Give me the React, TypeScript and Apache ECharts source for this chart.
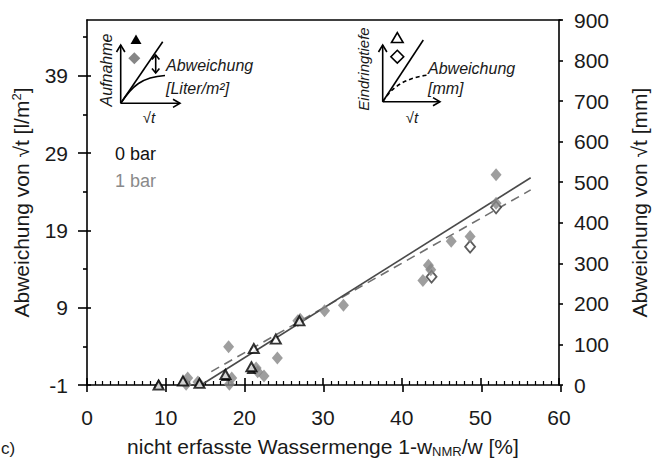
import React, { useEffect, useRef } from "react";
import * as echarts from "echarts";

// Axis tick values
const xTickValues = [0, 10, 20, 30, 40, 50, 60];
const leftTickValues = [-1, 9, 19, 29, 39];
const leftMinorTickValues = [4, 14, 24, 34, 44];
const rightTickValues = [0, 100, 200, 300, 400, 500, 600, 700, 800, 900];

// Aufnahme deviation [l/m²], 0 bar (filled triangles)
const uptake0bar: [number, number][] = [
  [9.1, -0.8], [12.2, -0.4], [14.3, -0.7], [17.6, 0.1], [20.9, 1.0],
];

// Aufnahme deviation [l/m²], 1 bar (grey diamonds)
const uptake1bar: [number, number][] = [
  [12.6, -0.9], [12.8, -0.1], [14.1, -0.6], [18.0, 3.95], [18.1, -0.9],
  [18.4, -0.1], [21.5, 1.2], [21.7, 0.7], [22.5, 0.15], [24.2, 2.5],
  [26.8, 7.3], [27.1, 7.5], [30.2, 8.6], [32.6, 9.3], [42.7, 12.5],
  [43.4, 14.5], [43.7, 13.9], [46.3, 17.6], [48.7, 18.2], [52.0, 26.2],
  [52.0, 22.5],
];

// Eindringtiefe deviation [mm], 0 bar (open triangles)
const depth0bar: [number, number][] = [
  [9.1, 0], [12.2, 10], [14.3, 4], [17.6, 26], [20.9, 45],
  [21.2, 90], [24.0, 113], [27.0, 158],
];

// Eindringtiefe deviation [mm], 1 bar (open diamonds)
const depth1bar: [number, number][] = [
  [43.8, 267], [48.7, 341], [52.0, 438],
];

// Regression lines
const uptakeFit: [number, number][] = [[14.5, -1], [56.4, 25.8]];
const depthFit: [number, number][] = [[15.8, 33], [56.4, 481]];

const FONT = '"Liberation Sans", Arial, Helvetica, sans-serif';
const INK = "#1a1a1a";
const AXIS_LINE = { color: "#000", width: 1.6 };
const PLOT = { left: 87, top: 20, width: 474, height: 365 };

const arrowStyle = { stroke: "#000", lineWidth: 1.6, fill: "none" };

function line(x1: number, y1: number, x2: number, y2: number, extra: any = {}) {
  return { type: "line", shape: { x1, y1, x2, y2 }, style: { ...arrowStyle, ...extra }, silent: true };
}
function head(points: number[][]) {
  return { type: "polyline", shape: { points }, style: { ...arrowStyle }, silent: true };
}
function label(text: string, x: number, y: number, size: number, extra: any = {}) {
  return {
    type: "text",
    x,
    y,
    silent: true,
    style: {
      text,
      fontSize: size,
      fontFamily: FONT,
      fontStyle: "italic",
      fill: INK,
      align: "left",
      verticalAlign: "middle",
      ...extra,
    },
  };
}

function buildGraphics() {
  const g: any[] = [];
  // left inset: uptake sketch
  g.push(line(120.7, 103.3, 120.7, 45));
  g.push(head([[116.5, 52], [120.7, 45], [124.9, 52]]));
  g.push(line(120.7, 103.3, 180, 103.3));
  g.push(head([[173, 99.2], [180, 103.3], [173, 107.4]]));
  g.push(line(120.7, 103.3, 162.7, 41.7));
  g.push({
    type: "bezierCurve",
    shape: { x1: 120.7, y1: 103.3, cpx1: 132, cpy1: 86, cpx2: 142, cpy2: 77, x2: 165, y2: 75.5 },
    style: { ...arrowStyle },
    silent: true,
  });
  g.push(line(155.7, 55, 155.7, 73));
  g.push(head([[152, 59.5], [155.7, 55], [159.4, 59.5]]));
  g.push(head([[152, 68.5], [155.7, 73], [159.4, 68.5]]));
  g.push({
    type: "polygon",
    shape: { points: [[130.5, 44], [136, 34.5], [141.5, 44]] },
    style: { fill: "#000" },
    silent: true,
  });
  g.push({
    type: "polygon",
    shape: { points: [[134.3, 52.3], [140.3, 58.3], [134.3, 64.3], [128.3, 58.3]] },
    style: { fill: "#868686" },
    silent: true,
  });
  g.push(label("Aufnahme", 106.7, 70, 16, { align: "center" }));
  g[g.length - 1].rotation = Math.PI / 2;
  g.push(label("Abweichung", 166, 65, 16));
  g.push(label("[Liter/m²]", 166, 88, 16));
  g.push(label("√t", 149, 117, 15, { align: "center" }));

  // right inset: penetration depth sketch
  g.push(line(382.7, 101.7, 382.7, 45));
  g.push(head([[378.5, 52], [382.7, 45], [386.9, 52]]));
  g.push(line(382.7, 101.7, 440, 101.7));
  g.push(head([[433, 97.6], [440, 101.7], [433, 105.8]]));
  g.push(line(382.7, 101.7, 423.3, 40));
  g.push({
    type: "bezierCurve",
    shape: { x1: 382.7, y1: 101.7, cpx1: 392, cpy1: 87, cpx2: 405, cpy2: 78, x2: 428.3, y2: 75 },
    style: { ...arrowStyle, lineDash: [4, 3] },
    silent: true,
  });
  g.push({
    type: "polygon",
    shape: { points: [[391.5, 42.5], [397.3, 32.5], [403.1, 42.5]] },
    style: { fill: "#fff", stroke: "#000", lineWidth: 1.6 },
    silent: true,
  });
  g.push({
    type: "polygon",
    shape: { points: [[397.3, 50.3], [403.7, 56.7], [397.3, 63.1], [390.9, 56.7]] },
    style: { fill: "#fff", stroke: "#000", lineWidth: 1.6 },
    silent: true,
  });
  g.push(label("Eindringtiefe", 363.3, 69, 15, { align: "center" }));
  g[g.length - 1].rotation = Math.PI / 2;
  g.push(label("Abweichung", 428, 68, 16));
  g.push(label("[mm]", 428, 88, 16));
  g.push(label("√t", 412, 117, 15, { align: "center" }));

  // series captions
  g.push(label("0 bar", 115, 154, 18, { fontStyle: "normal", fill: "#111" }));
  g.push(label("1 bar", 115, 181, 18, { fontStyle: "normal", fill: "#8a8a8a" }));
  // panel letter
  g.push(label("c)", 1, 448, 17, { fontStyle: "normal" }));
  return g;
}

export default function App() {
  const ref = useRef<HTMLDivElement>(null);

  useEffect(() => {
    if (!ref.current) return;
    const chart = echarts.init(ref.current, undefined, { renderer: "svg" });

    const nameStyle = {
      fontSize: 21,
      fontFamily: FONT,
      color: INK,
      lineHeight: 24,
      rich: {
        sub: { fontSize: 13, fontFamily: FONT, color: INK, lineHeight: 13, verticalAlign: "bottom" },
        sup: { fontSize: 13, fontFamily: FONT, color: INK, lineHeight: 13, verticalAlign: "top" },
      },
    };
    const tickLabel = { fontSize: 21, fontFamily: FONT, color: INK };

    chart.setOption({
      animation: false,
      backgroundColor: "#fff",
      grid: [{ ...PLOT }, { ...PLOT }, { ...PLOT }],
      xAxis: [
        {
          gridIndex: 0,
          type: "value",
          min: 0,
          max: 60,
          interval: 10,
          position: "bottom",
          axisLine: { show: true, onZero: false, lineStyle: AXIS_LINE },
          axisTick: { show: true, inside: true, length: 7, customValues: xTickValues, lineStyle: AXIS_LINE },
          minorTick: { show: true, splitNumber: 10, length: 4, lineStyle: { color: "#000", width: 1.2 } },
          axisLabel: { ...tickLabel, margin: 22, customValues: xTickValues },
          splitLine: { show: false },
          name: "nicht erfasste Wassermenge 1-w{sub|NMR}/w [%]",
          nameLocation: "middle",
          nameGap: 49,
          nameTextStyle: nameStyle,
        },
        {
          gridIndex: 1,
          type: "value",
          min: 0,
          max: 60,
          interval: 10,
          position: "bottom",
          axisLine: { show: false, onZero: false },
          axisTick: { show: true, inside: false, length: 7, lineStyle: AXIS_LINE },
          axisLabel: { show: false },
          splitLine: { show: false },
        },
        {
          gridIndex: 2,
          type: "value",
          min: 0,
          max: 60,
          position: "top",
          axisLine: { show: true, onZero: false, lineStyle: AXIS_LINE },
          axisTick: { show: false },
          axisLabel: { show: false },
          splitLine: { show: false },
        },
      ],
      yAxis: [
        {
          gridIndex: 0,
          type: "value",
          min: -1,
          max: 46.2,
          position: "left",
          axisLine: { show: true, onZero: false, lineStyle: AXIS_LINE },
          axisTick: { show: true, length: 9, customValues: leftTickValues, lineStyle: AXIS_LINE },
          axisLabel: { ...tickLabel, margin: 19, customValues: leftTickValues },
          splitLine: { show: false },
          name: "Abweichung von √t [l/m{sup|2}]",
          nameLocation: "middle",
          nameRotate: 90,
          nameGap: 43,
          nameTextStyle: nameStyle,
        },
        {
          gridIndex: 0,
          type: "value",
          min: 0,
          max: 900,
          interval: 100,
          position: "right",
          axisLine: { show: true, onZero: false, lineStyle: AXIS_LINE },
          axisTick: { show: true, length: 4, customValues: rightTickValues, lineStyle: AXIS_LINE },
          axisLabel: { ...tickLabel, margin: 15, customValues: rightTickValues },
          splitLine: { show: false },
          name: "Abweichung von √t [mm]",
          nameLocation: "middle",
          nameRotate: 90,
          nameGap: 68,
          nameTextStyle: nameStyle,
        },
        {
          gridIndex: 1,
          type: "value",
          min: -1,
          max: 46.2,
          position: "left",
          axisLine: { show: false, onZero: false },
          axisTick: { show: true, inside: true, length: 4, customValues: leftTickValues, lineStyle: AXIS_LINE },
          axisLabel: { show: false },
          splitLine: { show: false },
        },
        {
          gridIndex: 2,
          type: "value",
          min: -1,
          max: 46.2,
          position: "left",
          axisLine: { show: false, onZero: false },
          axisTick: { show: true, length: 4, customValues: leftMinorTickValues, lineStyle: AXIS_LINE },
          axisLabel: { show: false },
          splitLine: { show: false },
        },
      ],
      series: [
        {
          type: "line",
          name: "Trend Eindringtiefe",
          xAxisIndex: 0,
          yAxisIndex: 1,
          data: depthFit,
          showSymbol: false,
          symbol: "none",
          lineStyle: { color: "#707070", width: 1.6, type: [9, 6] },
          z: 1,
        },
        {
          type: "line",
          name: "Trend Aufnahme",
          xAxisIndex: 0,
          yAxisIndex: 0,
          data: uptakeFit,
          showSymbol: false,
          symbol: "none",
          lineStyle: { color: "#4a4a4a", width: 1.6 },
          z: 1,
        },
        {
          type: "scatter",
          name: "1 bar Eindringtiefe",
          xAxisIndex: 0,
          yAxisIndex: 1,
          data: depth1bar,
          symbol: "diamond",
          symbolSize: [10, 12],
          itemStyle: { color: "#fff", borderColor: "#333", borderWidth: 1.8 },
          z: 2,
        },
        {
          type: "scatter",
          name: "1 bar Aufnahme",
          xAxisIndex: 0,
          yAxisIndex: 0,
          data: uptake1bar,
          symbol: "diamond",
          symbolSize: [11, 13],
          itemStyle: { color: "#868686" },
          z: 3,
        },
        {
          type: "scatter",
          name: "0 bar Aufnahme",
          xAxisIndex: 0,
          yAxisIndex: 0,
          data: uptake0bar,
          symbol: "triangle",
          symbolSize: [10, 9],
          itemStyle: { color: "#000" },
          z: 4,
        },
        {
          type: "scatter",
          name: "0 bar Eindringtiefe",
          xAxisIndex: 0,
          yAxisIndex: 1,
          data: depth0bar,
          symbol: "triangle",
          symbolSize: [10, 9],
          itemStyle: { color: "#fff", borderColor: "#000", borderWidth: 2 },
          z: 5,
        },
      ],
      graphic: buildGraphics(),
    });

    return () => chart.dispose();
  }, []);

  return (
    <div
      ref={ref}
      style={{ position: "fixed", left: 0, top: 0, width: 659, height: 465, background: "#fff" }}
    />
  );
}
